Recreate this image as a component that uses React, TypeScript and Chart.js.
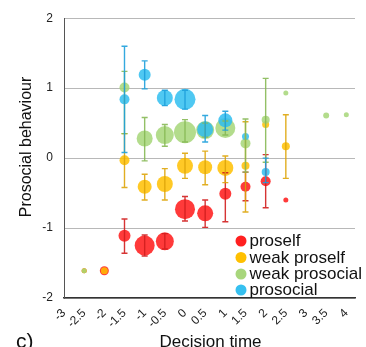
import React, { useEffect, useRef } from 'react';
import { Chart, registerables } from 'chart.js';

Chart.register(...registerables);

// ---- data ----
const decisionTimes = [-2.5, -2, -1.5, -1, -0.5, 0, 0.5, 1, 1.5, 2, 2.5, 3, 3.5, 4];
const xTickValues = [-3, -2.5, -2, -1.5, -1, -0.5, 0, 0.5, 1, 1.5, 2, 2.5, 3, 3.5, 4];
const yTickValues = [-2, -1, 0, 1, 2];
const seriesNames = ['proself', 'weak proself', 'weak prosocial', 'prosocial'];
const xTitle = 'Decision time';
const yTitle = 'Prosocial behaviour';
const panelLabel = 'c)';

type N = number | null;

const proselfMean: N[] = [-1.61, -1.61, -1.11, -1.25, -1.19, -0.73, -0.79, -0.51, -0.41, -0.33, -0.6, null, null, null];
const proselfLow: N[] = [null, null, -1.36, -1.4, -1.3, -0.9, -0.99, -0.91, -0.61, -0.71, null, null, null, null];
const proselfHigh: N[] = [null, null, -0.87, -1.1, -1.08, -0.55, -0.6, -0.21, -0.2, 0.05, null, null, null, null];
const proselfSize: N[] = [2.5, 4.5, 6, 10, 9, 10, 8, 6, 5, 5, 2.5, null, null, null];

const weakProselfMean: N[] = [-1.61, -1.61, -0.03, -0.41, -0.37, -0.11, -0.13, -0.14, -0.11, 0.48, 0.17, null, null, null];
const weakProselfLow: N[] = [null, null, -0.42, -0.6, -0.6, -0.29, -0.38, -0.35, -0.77, null, -0.29, null, null, null];
const weakProselfHigh: N[] = [null, null, 0.35, -0.23, -0.15, 0.07, 0.1, 0.03, 0.52, null, 0.62, null, null, null];
const weakProselfSize: N[] = [2.5, 3.5, 5, 7, 8, 8, 7, 8, 4, 3.5, 4, null, null, null];

const weakProsocialMean: N[] = [-1.61, null, 1.01, 0.28, 0.33, 0.37, 0.4, 0.43, 0.21, 0.55, 0.93, null, 0.61, 0.62];
const weakProsocialLow: N[] = [null, null, 0.35, -0.04, 0.17, 0.23, 0.3, 0.33, -0.2, -0.06, null, null, null, null];
const weakProsocialHigh: N[] = [null, null, 1.24, 0.58, 0.48, 0.55, 0.5, 0.53, 0.56, 1.14, null, null, null, null];
const weakProsocialSize: N[] = [2.5, null, 5, 8, 9, 11, 9, 10, 5, 4, 2.5, null, 3, 2.5];

const prosocialMean: N[] = [null, null, 0.84, 1.19, 0.86, 0.84, 0.41, 0.54, 0.31, -0.2, null, null, null, null];
const prosocialLow: N[] = [null, null, 0.08, 0.99, 0.75, 0.7, 0.23, 0.4, null, -0.35, null, null, null, null];
const prosocialHigh: N[] = [null, null, 1.6, 1.39, 0.97, 0.97, 0.61, 0.67, null, 0.0, null, null, null, null];
const prosocialSize: N[] = [null, null, 5, 6, 8, 10.5, 8, 7, 3.5, 4, null, null, null, null];

const fillColors = ['rgba(255,24,24,0.85)', 'rgba(255,192,0,0.85)', 'rgba(166,214,120,0.85)', 'rgba(48,190,240,0.85)'];
const legendColors = ['#ff2020', '#ffc000', '#a8d67c', '#36c0f0'];
const barColors = ['rgba(210,30,30,0.9)', 'rgba(222,165,10,0.9)', 'rgba(135,185,85,0.9)', 'rgba(30,160,220,0.9)'];

function buildPoints(mean: N[], low: N[], high: N[], size: N[]) {
  const pts: any[] = [];
  decisionTimes.forEach((x, i) => {
    const y = mean[i];
    if (y === null || y === undefined) return;
    pts.push({ x, y, r: size[i] ?? 3, lo: low[i], hi: high[i] });
  });
  return pts;
}

const FONT = '"Liberation Sans", Arial, sans-serif';

const errorBarPlugin = {
  id: 'errorBars',
  afterDatasetsDraw(chart: any) {
    const ctx = chart.ctx;
    const xs = chart.scales.x;
    const ys = chart.scales.y;
    ctx.save();
    chart.data.datasets.forEach((ds: any, di: number) => {
      ctx.strokeStyle = barColors[di];
      ctx.lineWidth = 1.4;
      ds.data.forEach((p: any) => {
        if (p.lo === null || p.lo === undefined || p.hi === null || p.hi === undefined) return;
        const px = xs.getPixelForValue(p.x);
        const y1 = ys.getPixelForValue(p.lo);
        const y2 = ys.getPixelForValue(p.hi);
        ctx.beginPath();
        ctx.moveTo(px, y1);
        ctx.lineTo(px, y2);
        ctx.moveTo(px - 3, y1);
        ctx.lineTo(px + 3, y1);
        ctx.moveTo(px - 3, y2);
        ctx.lineTo(px + 3, y2);
        ctx.stroke();
      });
    });
    ctx.restore();
  },
};

const textPlugin = {
  id: 'texts',
  afterDraw(chart: any) {
    const ctx = chart.ctx;
    const ca = chart.chartArea;
    ctx.save();
    ctx.fillStyle = '#111';
    // x title
    ctx.font = `17px ${FONT}`;
    ctx.textAlign = 'center';
    ctx.textBaseline = 'alphabetic';
    ctx.fillText(xTitle, (ca.left + 357) / 2, 347);
    // y title
    ctx.save();
    ctx.translate(27, 147);
    ctx.rotate(-Math.PI / 2);
    ctx.font = `16px ${FONT}`;
    ctx.textBaseline = 'middle';
    ctx.fillText(yTitle, 0, 0);
    ctx.restore();
    // panel label
    ctx.font = `21px ${FONT}`;
    ctx.textAlign = 'left';
    ctx.textBaseline = 'alphabetic';
    ctx.fillText(panelLabel, 16, 348);
    // legend
    ctx.font = `17px ${FONT}`;
    ctx.textBaseline = 'middle';
    const ly = [241, 257.5, 274, 290];
    seriesNames.forEach((name, i) => {
      ctx.fillStyle = legendColors[i];
      ctx.beginPath();
      ctx.arc(241, ly[i], 5.5, 0, Math.PI * 2);
      ctx.fill();
      ctx.fillStyle = '#111';
      ctx.fillText(name, 249.5, ly[i] + 0.5);
    });
    ctx.restore();
  },
};

export default function App() {
  const ref = useRef<HTMLCanvasElement>(null);
  useEffect(() => {
    if (!ref.current) return;
    const chart = new Chart(ref.current, {
      type: 'bubble',
      data: {
        datasets: [
          { label: seriesNames[0], data: buildPoints(proselfMean, proselfLow, proselfHigh, proselfSize), backgroundColor: fillColors[0], borderWidth: 0, order: 4 },
          { label: seriesNames[1], data: buildPoints(weakProselfMean, weakProselfLow, weakProselfHigh, weakProselfSize), backgroundColor: fillColors[1], borderWidth: 0, order: 3 },
          { label: seriesNames[2], data: buildPoints(weakProsocialMean, weakProsocialLow, weakProsocialHigh, weakProsocialSize), backgroundColor: fillColors[2], borderWidth: 0, order: 2 },
          { label: seriesNames[3], data: buildPoints(prosocialMean, prosocialLow, prosocialHigh, prosocialSize), backgroundColor: fillColors[3], borderWidth: 0, order: 1 },
        ],
      },
      options: {
        animation: false,
        responsive: false,
        maintainAspectRatio: false,
        layout: { padding: { top: 18, left: 0, right: 0, bottom: 0 } },
        plugins: { legend: { display: false }, tooltip: { enabled: false }, title: { display: false } },
        scales: {
          x: {
            type: 'linear',
            min: -3,
            max: 4.215,
            afterFit: (s: any) => { s.height = 49; },
            afterBuildTicks: (s: any) => { s.ticks = xTickValues.map((v) => ({ value: v })); },
            grid: { display: false, drawTicks: false },
            border: { display: true, color: '#333', width: 1.5 },
            ticks: {
              autoSkip: false,
              minRotation: 45,
              maxRotation: 45,
              padding: 8,
              color: '#222',
              font: { size: 12, family: FONT },
              callback: (v: any) => String(v),
            },
          },
          y: {
            type: 'linear',
            min: -2,
            max: 2,
            afterFit: (s: any) => { s.width = 64; },
            afterBuildTicks: (s: any) => { s.ticks = yTickValues.map((v) => ({ value: v })); },
            grid: { color: '#b8b8b8', lineWidth: 1, drawTicks: false },
            border: { display: true, color: '#555', width: 1 },
            ticks: {
              padding: 11,
              color: '#222',
              font: { size: 12, family: FONT },
              callback: (v: any) => String(v),
            },
          },
        },
      } as any,
      plugins: [errorBarPlugin, textPlugin],
    });
    return () => chart.destroy();
  }, []);
  return (
    <div style={{ position: 'fixed', left: 0, top: 0, width: 366, height: 347, background: '#fff' }}>
      <canvas ref={ref} width={366} height={347} style={{ width: 366, height: 347, display: 'block' }} />
    </div>
  );
}
